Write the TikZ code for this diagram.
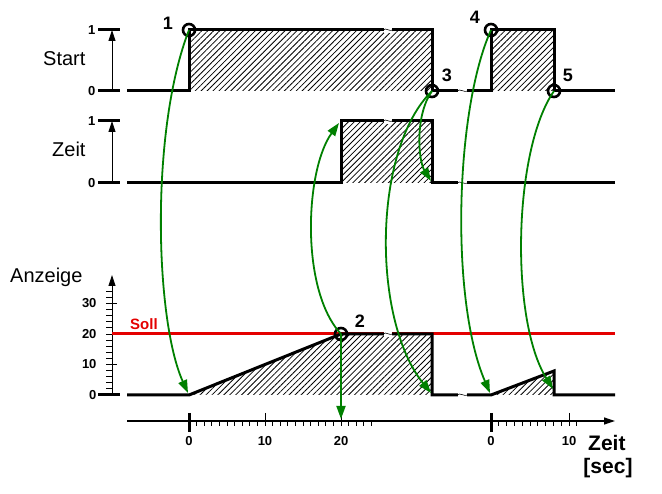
\documentclass[tikz,border=0pt]{standalone}
\usepackage{fontspec}
\setmainfont{Liberation Sans}
\usetikzlibrary{arrows.meta,patterns.meta}
\definecolor{flowgreen}{RGB}{0,128,0}
\definecolor{sollred}{RGB}{228,0,0}

\begin{document}
\begin{tikzpicture}[x=1pt,y=-1pt,
    sig/.style={line width=3pt, line join=miter},
    lvl/.style={line width=3pt},
    hatch/.style={pattern={Lines[angle=45,distance=4.2pt,line width=0.8pt]}},
    flow/.style={draw=flowgreen, line width=1.8pt, -{Triangle[length=13pt,width=9pt]}},
    axarrow/.style={line width=0.9pt, -{Triangle[length=11pt,width=7pt]}},
    pt/.style={circle, draw, line width=2.6pt, minimum size=12pt, inner sep=0pt},
    num/.style={font=\fontsize{18}{20}\selectfont\bfseries},
    tick/.style={font=\fontsize{13}{14}\selectfont\bfseries},
    title/.style={font=\fontsize{20}{24}\selectfont, anchor=base west, inner sep=0pt}]
    \useasboundingbox (0,0) rectangle (662,494);
    % signal names
    \node[title] (lStart) at (43,66) {Start};
    \node[title] (lZeit) at (52,157) {Zeit};
    \node[title] (lAnzeige) at (10,283) {Anzeige};
    % level axes
    \draw[axarrow] (112,91) -- (112,30);
    \draw[axarrow] (112,183) -- (112,121);
    \draw[axarrow] (112,395) -- (112,275);
    \foreach \y in {30,91,121,183,395}
        \draw[lvl] (98,\y) -- (120,\y);
    \node[tick, anchor=east] (s1) at (99,30) {1};
    \node[tick, anchor=east] (s0) at (99,91) {0};
    \node[tick, anchor=east] (z1) at (99,121) {1};
    \node[tick, anchor=east] (z0) at (99,183) {0};
    \foreach \v in {2,4,...,34}
        \draw[line width=0.9pt] (106,395-3.05*\v) -- (112,395-3.05*\v);
    \foreach \v in {0,10,20,30} {
        \draw[line width=0.9pt] (106,395-3.05*\v) -- (117,395-3.05*\v);
        \node[tick, anchor=east] (a\v) at (100,395-3.05*\v) {\v};
    }
    % set point
    \draw[sollred, line width=3pt] (112,334) -- (615,334);
    \node[font=\fontsize{15}{16}\selectfont\bfseries, text=sollred, anchor=base west, inner sep=0pt] (lSoll) at (130,330) {Soll};
    % hatched areas
    \fill[hatch] (189,30) rectangle (432,91);
    \fill[hatch] (491,30) rectangle (554,91);
    \fill[hatch] (341,121) rectangle (432,183);
    \fill[hatch] (189,395) -- (341,334) -- (432,334) -- (432,395) -- cycle;
    \fill[hatch] (491,395) -- (554,371) -- (554,395) -- cycle;
    % signals
    \draw[sig] (127,91) -- (189,91) -- (189,30) -- (432,30) -- (432,91) -- (491,91) -- (491,30) -- (554,30) -- (554,91) -- (615,91);
    \draw[sig] (127,183) -- (341,183) -- (341,121) -- (432,121) -- (432,183) -- (615,183);
    \draw[sig] (127,395) -- (189,395) -- (341,334) -- (432,334) -- (432,395) -- (491,395) -- (554,371) -- (554,395) -- (615,395);
    % breaks
    \foreach \y in {30,121,334} {
        \fill[white] (384,\y-2.6) rectangle (392,\y+2.6);
        \draw[line width=0.6pt] (383,\y) .. controls (386,\y-3) and (389,\y+2) .. (393,\y);
    }
    \foreach \y in {91,183,395} {
        \fill[white] (458,\y-2.6) rectangle (467,\y+2.6);
        \draw[line width=0.6pt] (457,\y) .. controls (460,\y-3) and (464,\y+2) .. (468,\y);
    }
    % time axis
    \draw[line width=1.2pt, -{Triangle[length=11pt,width=7pt]}] (127,421) -- (615,421);
    \foreach \i in {1,...,24}
        \draw[line width=0.8pt] (189+7.6*\i,421) -- (189+7.6*\i,426);
    \foreach \i in {1,...,11}
        \draw[line width=0.8pt] (491+7.8*\i,421) -- (491+7.8*\i,426);
    \draw[line width=3pt] (189,413) -- (189,432);
    \draw[line width=3pt] (491,413) -- (491,432);
    \draw[line width=0.8pt] (265,413) -- (265,426);
    \draw[line width=0.8pt] (341,413) -- (341,426);
    \draw[line width=0.8pt] (569,413) -- (569,426);
    \node[tick] (t0) at (189,441) {0};
    \node[tick] (t10) at (265,441) {10};
    \node[tick] (t20) at (341,441) {20};
    \node[tick] (u0) at (491,441) {0};
    \node[tick] (u10) at (569,441) {10};
    \node[font=\fontsize{21}{24}\selectfont\bfseries, anchor=base west, inner sep=0pt] (lZeitAx) at (588,450) {Zeit};
    \node[font=\fontsize{21}{24}\selectfont\bfseries, anchor=base, inner sep=0pt] (lSec) at (608,474) {[sec]};
    % events
    \node[pt] (p1) at (189,30) {};
    \node[pt] (p2) at (341,334) {};
    \node[pt] (p3) at (432,91) {};
    \node[pt] (p4) at (491,30) {};
    \node[pt] (p5) at (554,91) {};
    \node[num] (n1) at (168,23) {1};
    \node[num] (n2) at (360,321) {2};
    \node[num] (n3) at (447,75) {3};
    \node[num] (n4) at (475,17) {4};
    \node[num] (n5) at (568,75) {5};
    % arrow ends
    \coordinate (e1) at (188,393);
    \coordinate (e2) at (341,419);
    \coordinate (e3) at (339,123);
    \coordinate (e4) at (431,181);
    \coordinate (e5) at (431,393);
    \coordinate (e6) at (490,393);
    \coordinate (e7) at (553,389);
    % cause and effect
    \draw[flow] (p1.center) .. controls (150,130) and (155,320) .. (e1);
    \draw[flow] (p2.center) -- (e2);
    \draw[flow] (p2.center) .. controls (300,290) and (305,170) .. (e3);
    \draw[flow] (p3.center) .. controls (415,115) and (418,160) .. (e4);
    \draw[flow] (p3.center) .. controls (372,150) and (372,320) .. (e5);
    \draw[flow] (p4.center) .. controls (455,110) and (450,300) .. (e6);
    \draw[flow] (p5.center) .. controls (513,150) and (510,320) .. (e7);
\end{tikzpicture}
\end{document}
